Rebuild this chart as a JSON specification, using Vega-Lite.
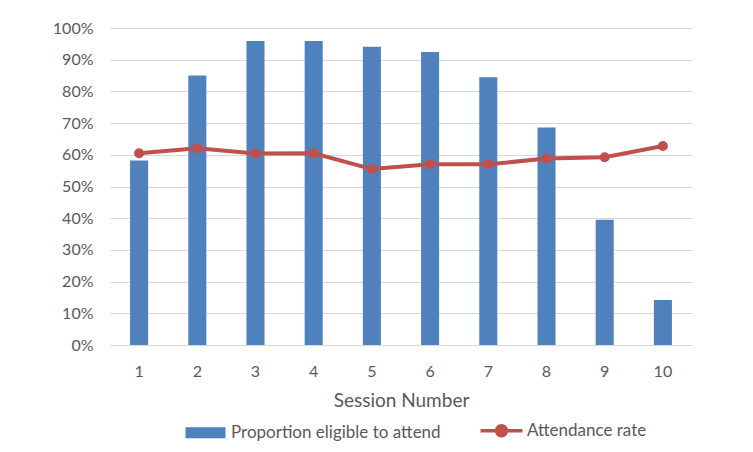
{
  "$schema": "https://vega.github.io/schema/vega-lite/v6.json",
  "width": 582,
  "height": 317,
  "autosize": {"type": "none"},
  "padding": {"left": 110, "top": 28, "right": 61, "bottom": 107},
  "background": "white",
  "config": {
    "view": {"stroke": null},
    "font": "Lato",
    "axis": {"labelColor": "#595959", "titleColor": "#595959", "labelFontSize": 16, "labelFont": "Lato"},
    "legend": {"labelColor": "#595959", "labelFontSize": 17, "labelFont": "Lato"}
  },
  "data": {
    "values": [
      {"session": 1, "eligible": 0.582, "attendance": 0.605},
      {"session": 2, "eligible": 0.850, "attendance": 0.621},
      {"session": 3, "eligible": 0.959, "attendance": 0.604},
      {"session": 4, "eligible": 0.959, "attendance": 0.605},
      {"session": 5, "eligible": 0.941, "attendance": 0.555},
      {"session": 6, "eligible": 0.924, "attendance": 0.570},
      {"session": 7, "eligible": 0.845, "attendance": 0.570},
      {"session": 8, "eligible": 0.686, "attendance": 0.588},
      {"session": 9, "eligible": 0.395, "attendance": 0.592},
      {"session": 10, "eligible": 0.142, "attendance": 0.628}
    ]
  },
  "encoding": {
    "x": {
      "field": "session",
      "type": "ordinal",
      "scale": {"paddingInner": 0, "paddingOuter": 0},
      "axis": {
        "labelAngle": 0,
        "ticks": false,
        "domainColor": "#D9D9D9",
        "domainWidth": 1,
        "labelPadding": 18,
        "title": "Session Number",
        "titleFontSize": 19,
        "titleFontWeight": "normal",
        "titleFont": "Lato",
        "titlePadding": 12
      }
    },
    "y": {
      "type": "quantitative",
      "scale": {"domain": [0, 1], "nice": false},
      "axis": {
        "title": null,
        "format": ".0%",
        "values": [0, 0.1, 0.2, 0.3, 0.4, 0.5, 0.6, 0.7, 0.8, 0.9, 1],
        "tickCount": 20,
        "labelOverlap": false,
        "domain": false,
        "ticks": false,
        "labelPadding": 17,
        "gridColor": "#D9D9D9",
        "gridWidth": 1
      }
    }
  },
  "layer": [
    {
      "mark": {"type": "bar", "width": {"band": 0.31}},
      "encoding": {
        "y": {"field": "eligible"},
        "color": {
          "datum": "Proportion eligible to attend",
          "scale": {
            "domain": ["Proportion eligible to attend", "Attendance rate"],
            "range": ["#4F81BD", "#C0504D"]
          },
          "legend": {
            "title": null,
            "orient": "none",
            "legendX": 87,
            "legendY": 394,
            "direction": "horizontal",
            "symbolSize": 1600,
            "labelOffset": 17,
            "labelLimit": 0,
            "columnPadding": 32,
            "encode": {
              "symbols": {
                "update": {
                  "shape": {"signal": "datum.value === 'Attendance rate' ? 'M-1.05,0H1.05M-0.25,0A0.25,0.25 0 1 1 0.25,0A0.25,0.25 0 1 1 -0.25,0Z' : 'M-1,-0.27H1V0.27H-1Z'"},
                  "fill": {"signal": "scale('color', datum.value)"},
                  "stroke": {"signal": "scale('color', datum.value)"},
                  "strokeWidth": {"signal": "datum.value === 'Attendance rate' ? 3.5 : 0"},
                  "opacity": {"value": 1},
                  "fillOpacity": {"value": 1},
                  "strokeOpacity": {"value": 1}
                }
              }
            }
          }
        }
      }
    },
    {
      "mark": {"type": "line", "strokeWidth": 4, "point": {"filled": true, "size": 100, "opacity": 1}},
      "encoding": {
        "y": {"field": "attendance"},
        "color": {"datum": "Attendance rate"}
      }
    }
  ]
}
